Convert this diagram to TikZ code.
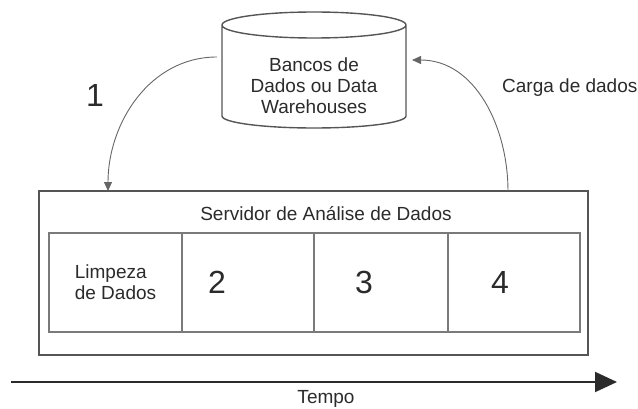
\documentclass[tikz,border=0pt]{standalone}
\usepackage{fontspec}
\setmainfont{Liberation Sans}
\usetikzlibrary{arrows.meta,positioning}
\definecolor{boxline}{HTML}{555555}
\definecolor{cellline}{HTML}{7A7A7A}
\definecolor{arrowline}{HTML}{666666}
\definecolor{ink}{HTML}{2B2B2B}

\begin{document}
\begin{tikzpicture}[%
	x=1pt,y=1pt,%
	txt/.style ={text=ink, font=\fontsize{19}{21}\selectfont, inner sep=0pt},%
	digit/.style ={text=ink, font=\fontsize{32}{36}\selectfont, inner sep=0pt},%
	frame/.style ={draw=boxline, line width=1.4pt, inner sep=0pt, outer sep=0pt},%
	cell/.style ={draw=cellline, line width=1.2pt, minimum height=99pt, inner sep=0pt, outer sep=0pt, anchor=west},%
	flow/.style ={draw=arrowline, line width=0.9pt, -{Triangle[length=9pt,width=8pt]}},%
	]
	\useasboundingbox (0,0) rectangle (638,408);
%%% database
	\node [inner sep=0pt, outer sep=0pt, minimum width=184pt, minimum height=116pt] (db) at (314,338) {};
	\draw [frame] ([yshift=-13pt]db.north west) -- ([yshift=12pt]db.south west)
		arc [start angle=180, end angle=360, x radius=92, y radius=12]
		-- ([yshift=-13pt]db.north east)
		arc [start angle=0, end angle=180, x radius=92, y radius=13]
		arc [start angle=180, end angle=360, x radius=92, y radius=13];
	\node [txt, align=center] (dbtext) at (314,322) {Bancos de\\Dados ou Data\\Warehouses};
	\node [digit] (one) at (95,313) {1};
	\node [txt, anchor=base west] (load) at (502,316) {Carga de dados};
%%% database
%%% server
	\node [frame, minimum width=549pt, minimum height=164pt] (srv) at (313.5,135) {};
	\node [txt, anchor=base] (srvtitle) at (326,188) {Servidor de Análise de Dados};
	\node [cell, txt, draw=cellline, minimum width=133pt, align=left] (c1) at (49,125.5) {Limpeza\\de Dados};
	\node [cell, minimum width=132pt, right=0pt of c1] (c2) {};
	\node [cell, minimum width=134pt, right=0pt of c2] (c3) {};
	\node [cell, minimum width=132pt, right=0pt of c3] (c4) {};
	\foreach \n/\dx in {2/-31,3/-17,4/-14}
		{\node [digit] (d\n) at ([xshift=\dx pt]c\n.center) {\n};}
%%% server
%%% arrows
	\draw [flow] ([xshift=-5pt,yshift=13pt]db.west) to[out=180,in=90] ([xshift=-205.5pt]srv.north);
	\draw [flow] ([xshift=194.5pt]srv.north) to[out=90,in=0] ([xshift=6pt,yshift=10pt]db.east);
%%% arrows
%%% time line
	\coordinate (t0) at (11,26);
	\coordinate (t1) at (617,26);
	\draw [draw=ink, line width=2pt, -{Triangle[length=22pt,width=20pt]}] (t0) -- (t1);
	\node [txt, anchor=base] (time) at (326,5) {Tempo};
%%% time line
\end{tikzpicture}
\end{document}
